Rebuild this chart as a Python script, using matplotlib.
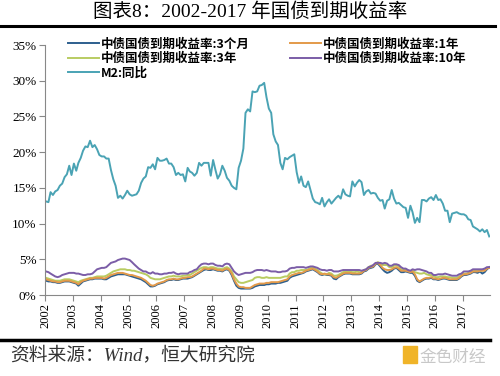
import numpy as np
import pandas as pd
import matplotlib
matplotlib.use('Agg')
import matplotlib.pyplot as plt
import matplotlib.dates as mdates
from matplotlib.patches import Rectangle

# monthly values, 2002-01 .. 2017-12 (%)
years = list(range(2002, 2018))

m2_yoy = [
    13.1, 13.0, 14.4, 14.0, 14.5, 14.7, 15.3, 15.6, 16.5, 16.9, 18.1, 16.8,
    18.4, 17.4, 18.5, 19.2, 20.2, 20.8, 20.7, 21.6, 20.7, 21.0, 20.4, 19.6,
    19.4, 19.4, 19.1, 19.1, 17.5, 16.2, 15.3, 13.6, 13.9, 13.5, 14.0, 14.6,
    14.1, 13.9, 14.0, 14.1, 14.6, 15.7, 16.3, 16.6, 17.9, 17.8, 18.3, 17.6,
    19.2, 18.8, 18.8, 18.9, 19.1, 18.4, 18.4, 17.9, 16.8, 17.1, 16.8, 16.9,
    15.9, 17.8, 17.3, 17.1, 16.7, 17.1, 18.5, 18.1, 18.5, 18.5, 18.5, 16.7,
    18.9, 17.5, 16.3, 16.9, 18.1, 17.4, 16.4, 16.0, 15.3, 15.0, 14.8, 17.8,
    18.8, 20.5, 25.5, 26.0, 25.7, 28.5, 28.4, 28.5, 29.3, 29.4, 29.7, 27.7,
    26.1, 25.5, 22.5, 21.5, 21.0, 18.5, 17.6, 19.2, 19.0, 19.3, 19.5, 19.7,
    17.2, 15.7, 16.6, 15.3, 15.1, 15.9, 14.7, 13.5, 13.0, 12.9, 12.7, 13.6,
    12.4, 13.0, 13.4, 12.8, 13.2, 13.6, 13.9, 13.5, 14.8, 14.1, 13.9, 13.8,
    15.9, 15.2, 15.7, 16.1, 15.8, 14.0, 14.5, 14.7, 14.2, 14.3, 14.2, 13.6,
    13.2, 13.3, 12.1, 13.2, 13.4, 14.7, 13.5, 12.8, 12.9, 12.6, 12.3, 12.2,
    10.8, 12.5, 11.6, 10.1, 10.8, 10.2, 13.3, 13.3, 13.1, 13.5, 13.7, 13.3,
    14.0, 13.3, 13.4, 12.8, 11.8, 11.8, 10.2, 11.4, 11.5, 11.6, 11.4, 11.3,
    11.3, 11.1, 10.6, 10.5, 9.6, 9.4, 9.2, 8.9, 9.2, 8.8, 9.1, 8.2,
]

y10 = [
    3.3, 3.2, 3.0, 2.8, 2.6, 2.5, 2.6, 2.8, 2.9, 3.0, 3.1, 3.1,
    3.1, 3.0, 3.0, 2.9, 2.8, 2.8, 2.9, 2.9, 3.0, 3.3, 3.6, 3.7,
    3.8, 3.8, 3.9, 4.2, 4.5, 4.6, 4.7, 4.9, 5.0, 5.1, 5.1, 5.0,
    4.9, 4.6, 4.3, 4.0, 3.7, 3.5, 3.3, 3.3, 3.1, 3.0, 3.2, 3.0,
    3.0, 2.9, 2.9, 3.0, 3.0, 3.1, 3.1, 3.2, 3.0, 2.9, 3.0, 3.0,
    3.0, 3.0, 3.2, 3.3, 3.5, 3.6, 4.0, 4.3, 4.4, 4.4, 4.3, 4.4,
    4.4, 4.2, 4.1, 4.1, 4.0, 4.3, 4.4, 4.3, 3.8, 3.3, 3.0, 2.8,
    2.9, 3.0, 3.1, 3.1, 3.1, 3.2, 3.4, 3.5, 3.5, 3.5, 3.4, 3.5,
    3.4, 3.3, 3.3, 3.3, 3.2, 3.2, 3.3, 3.3, 3.4, 3.7, 3.8, 3.8,
    3.9, 3.9, 3.9, 3.9, 3.8, 3.9, 4.0, 4.0, 3.9, 3.8, 3.6, 3.5,
    3.5, 3.4, 3.5, 3.5, 3.3, 3.3, 3.3, 3.4, 3.5, 3.5, 3.5, 3.5,
    3.5, 3.5, 3.5, 3.5, 3.4, 3.5, 3.6, 3.9, 4.0, 4.2, 4.5, 4.5,
    4.5, 4.4, 4.5, 4.4, 4.1, 4.1, 4.3, 4.3, 4.2, 3.9, 3.7, 3.7,
    3.5, 3.4, 3.6, 3.5, 3.6, 3.6, 3.5, 3.4, 3.3, 3.1, 3.1, 2.8,
    2.8, 2.9, 2.9, 2.9, 3.0, 2.9, 2.8, 2.7, 2.7, 2.7, 2.9, 3.0,
    3.3, 3.3, 3.3, 3.4, 3.6, 3.6, 3.6, 3.6, 3.6, 3.7, 3.9, 3.9,
]

y3 = [
    2.4, 2.3, 2.2, 2.1, 2.0, 2.0, 2.0, 2.1, 2.2, 2.2, 2.2, 2.1,
    2.0, 1.9, 1.8, 2.0, 2.1, 2.2, 2.3, 2.4, 2.4, 2.5, 2.6, 2.6,
    2.6, 2.6, 2.7, 2.9, 3.1, 3.3, 3.4, 3.5, 3.6, 3.6, 3.6, 3.5,
    3.5, 3.4, 3.4, 3.3, 3.2, 3.1, 3.0, 2.9, 2.7, 2.4, 2.3, 2.2,
    2.2, 2.2, 2.3, 2.4, 2.5, 2.6, 2.6, 2.7, 2.6, 2.6, 2.6, 2.7,
    2.7, 2.8, 2.8, 3.0, 3.2, 3.4, 3.6, 3.8, 3.9, 3.9, 3.8, 3.9,
    3.9, 3.8, 3.7, 3.7, 3.6, 3.8, 3.9, 3.7, 3.3, 2.6, 2.2, 1.8,
    1.7, 1.7, 1.8, 1.9, 2.0, 2.1, 2.4, 2.5, 2.5, 2.4, 2.4, 2.5,
    2.4, 2.4, 2.4, 2.4, 2.4, 2.4, 2.5, 2.6, 2.6, 3.0, 3.2, 3.2,
    3.4, 3.4, 3.5, 3.5, 3.5, 3.6, 3.8, 3.8, 3.7, 3.5, 3.2, 3.0,
    2.9, 2.9, 3.1, 3.0, 2.7, 2.7, 2.8, 3.0, 3.2, 3.3, 3.3, 3.3,
    3.2, 3.2, 3.3, 3.2, 3.2, 3.5, 3.6, 3.9, 4.1, 4.1, 4.4, 4.6,
    4.4, 4.2, 4.2, 4.2, 3.9, 3.9, 4.1, 4.2, 4.0, 3.6, 3.6, 3.6,
    3.4, 3.3, 3.4, 3.2, 3.1, 3.0, 3.0, 3.1, 2.9, 2.8, 2.8, 2.6,
    2.5, 2.5, 2.6, 2.6, 2.6, 2.5, 2.5, 2.4, 2.4, 2.4, 2.6, 2.8,
    3.0, 3.0, 3.1, 3.2, 3.4, 3.4, 3.4, 3.4, 3.4, 3.6, 3.8, 3.8,
]

y1 = [
    2.2, 2.1, 2.0, 1.9, 1.9, 1.8, 1.8, 1.9, 2.0, 2.0, 2.0, 1.9,
    1.8, 1.7, 1.5, 1.8, 2.0, 2.1, 2.2, 2.3, 2.3, 2.4, 2.4, 2.4,
    2.4, 2.3, 2.4, 2.6, 2.8, 2.9, 3.0, 3.1, 3.1, 3.1, 3.0, 2.9,
    2.8, 2.8, 2.7, 2.6, 2.5, 2.4, 2.2, 2.0, 1.7, 1.4, 1.3, 1.4,
    1.6, 1.7, 1.8, 1.9, 2.1, 2.2, 2.2, 2.3, 2.2, 2.2, 2.3, 2.4,
    2.4, 2.5, 2.5, 2.6, 2.8, 3.0, 3.2, 3.4, 3.7, 3.7, 3.6, 3.7,
    3.7, 3.6, 3.5, 3.5, 3.4, 3.6, 3.7, 3.5, 3.0, 2.2, 1.6, 1.2,
    1.1, 1.1, 1.0, 1.0, 1.0, 1.2, 1.4, 1.5, 1.6, 1.6, 1.6, 1.7,
    1.7, 1.8, 1.8, 1.8, 1.8, 1.9, 2.0, 2.1, 2.2, 2.6, 2.8, 2.9,
    3.0, 3.1, 3.1, 3.2, 3.4, 3.5, 3.6, 3.7, 3.5, 3.3, 3.0, 2.9,
    3.0, 2.9, 2.9, 2.8, 2.5, 2.4, 2.6, 2.8, 3.0, 3.1, 3.1, 3.1,
    3.0, 3.0, 3.0, 3.0, 3.1, 3.4, 3.5, 3.8, 3.9, 4.0, 4.4, 4.5,
    4.2, 3.8, 3.6, 3.5, 3.5, 3.6, 3.8, 3.9, 3.7, 3.4, 3.4, 3.4,
    3.3, 3.2, 3.3, 2.9, 2.2, 1.9, 2.1, 2.3, 2.4, 2.4, 2.5, 2.3,
    2.3, 2.2, 2.3, 2.4, 2.4, 2.3, 2.2, 2.2, 2.2, 2.2, 2.4, 2.7,
    2.9, 2.9, 3.0, 3.1, 3.3, 3.3, 3.3, 3.4, 3.4, 3.4, 3.7, 3.8,
]

m3 = [
    2.0, 1.9, 1.9, 1.8, 1.8, 1.7, 1.7, 1.8, 1.9, 1.9, 1.9, 1.8,
    1.7, 1.6, 1.3, 1.6, 1.9, 2.0, 2.1, 2.2, 2.2, 2.3, 2.3, 2.3,
    2.3, 2.2, 2.2, 2.4, 2.6, 2.7, 2.8, 2.9, 2.9, 2.9, 2.9, 2.8,
    2.7, 2.6, 2.5, 2.4, 2.3, 2.2, 2.0, 1.8, 1.5, 1.2, 1.2, 1.3,
    1.5, 1.6, 1.7, 1.8, 2.0, 2.1, 2.1, 2.2, 2.1, 2.1, 2.2, 2.3,
    2.3, 2.3, 2.4, 2.5, 2.7, 2.9, 3.1, 3.3, 3.5, 3.6, 3.5, 3.5,
    3.6, 3.5, 3.4, 3.4, 3.3, 3.5, 3.6, 3.4, 2.8, 2.0, 1.3, 1.0,
    0.9, 0.9, 0.9, 0.9, 0.9, 1.0, 1.2, 1.3, 1.4, 1.4, 1.4, 1.5,
    1.5, 1.6, 1.6, 1.6, 1.7, 1.7, 1.8, 1.9, 2.0, 2.4, 2.6, 2.7,
    2.8, 2.9, 3.0, 3.1, 3.3, 3.4, 3.5, 3.6, 3.4, 3.2, 2.9, 2.8,
    2.9, 2.8, 2.8, 2.7, 2.3, 2.2, 2.5, 2.7, 2.9, 3.0, 3.0, 3.0,
    2.9, 2.9, 2.9, 2.9, 3.0, 3.3, 3.4, 3.7, 3.8, 3.9, 4.3, 4.4,
    4.0, 3.6, 3.3, 3.1, 3.2, 3.4, 3.7, 3.8, 3.5, 3.2, 3.2, 3.3,
    3.2, 3.1, 3.1, 2.7, 2.0, 1.8, 2.0, 2.2, 2.3, 2.3, 2.4, 2.2,
    2.2, 2.1, 2.2, 2.3, 2.3, 2.2, 2.1, 2.1, 2.1, 2.1, 2.3, 2.6,
    2.8, 2.8, 2.9, 3.0, 3.2, 3.2, 3.1, 3.3, 3.0, 3.2, 3.6, 3.9,
]

dates = pd.date_range('2002-01-01', '2017-12-01', freq='MS') + pd.Timedelta(days=14)

serif = ['Liberation Serif', 'Noto Sans CJK SC']
cjk = ['Noto Sans CJK SC', 'DejaVu Sans']

fig = plt.figure(figsize=(5.0, 3.76), dpi=100)
ax = fig.add_axes([0.09, 0.2154, 0.89, 0.6649])

ax.plot(dates, m3, color='#2d5f8e', lw=1.4, label='中债国债到期收益率:3个月')
ax.plot(dates, y3, color='#b9cc62', lw=1.4, label='中债国债到期收益率:3年')
ax.plot(dates, m2_yoy, color='#4aa3b4', lw=1.4, label='M2:同比')
ax.plot(dates, y1, color='#e39a4a', lw=1.4, label='中债国债到期收益率:1年')
ax.plot(dates, y10, color='#7b5da7', lw=1.4, label='中债国债到期收益率:10年')

ax.set_ylim(0, 35)
ax.set_yticks(range(0, 36, 5))
ax.set_yticklabels(['{}%'.format(v) for v in range(0, 36, 5)], family=serif, fontsize=9.5)
ax.set_xlim(pd.Timestamp('2002-01-01'), pd.Timestamp('2017-12-25'))
ax.set_xticks([pd.Timestamp('{}-01-01'.format(y)) for y in years])
ax.set_xticklabels([str(y) for y in years], rotation=90, family=serif, fontsize=9)
ax.tick_params(axis='both', direction='out', length=4, width=0.8, color='#888888', pad=2)

for s in ['top', 'right']:
    ax.spines[s].set_visible(False)
for s in ['left', 'bottom']:
    ax.spines[s].set_color('#888888')
    ax.spines[s].set_linewidth(0.8)

leg = ax.legend(ncol=2, loc='upper left', bbox_to_anchor=(0.052, 1.03), frameon=False,
                prop={'family': cjk, 'weight': 'bold', 'size': 9},
                handlelength=2.5, handletextpad=0.15, labelspacing=0.12,
                columnspacing=3.2, borderaxespad=0, borderpad=0)

fig.text(0.5, 0.968, '图表8：2002-2017 年国债到期收益率', ha='center', va='center',
         family=serif, fontsize=14)
fig.add_artist(plt.Line2D([0.0, 0.99], [0.932, 0.932], color='black', lw=2.2))
fig.add_artist(plt.Line2D([0.0, 0.98], [0.096, 0.096], color='black', lw=2.5))
fig.text(0.02, 0.055, '资料来源：Wind，恒大研究院', ha='left', va='center',
         family=serif, style='italic', fontsize=13.5, color='#333333')

# watermark
fig.add_artist(Rectangle((0.805, 0.035), 0.028, 0.045, color='#f0b429', transform=fig.transFigure))
fig.text(0.84, 0.05, '金色财经', ha='left', va='center', family=cjk,
         fontsize=12, color='#c8c8c8')

fig.savefig('out.png', dpi=100)
